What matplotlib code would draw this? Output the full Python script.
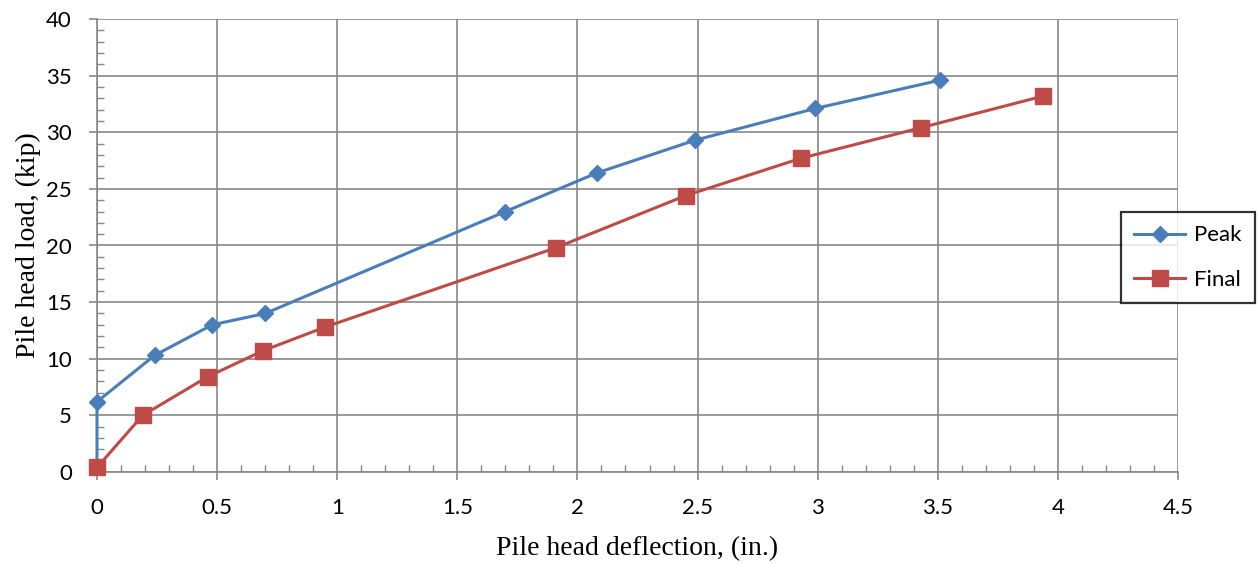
import matplotlib
matplotlib.use("Agg")
import matplotlib.pyplot as plt
from matplotlib.ticker import MultipleLocator

peak_x = [0.0, 0.0, 0.24, 0.48, 0.70, 1.70, 2.08, 2.49, 2.99, 3.51]
peak_y = [0.4, 6.2, 10.3, 13.0, 14.0, 23.0, 26.4, 29.3, 32.1, 34.6]
final_x = [0.0, 0.19, 0.46, 0.69, 0.95, 1.91, 2.45, 2.93, 3.43, 3.94]
final_y = [0.4, 5.0, 8.4, 10.7, 12.8, 19.8, 24.4, 27.7, 30.4, 33.2]

xlabel = "Pile head deflection, (in.)"
ylabel = "Pile head load, (kip)"
series_names = ["Peak", "Final"]

fig = plt.figure(figsize=(12.59, 5.65), dpi=100)
ax = fig.add_axes([97/1259, 1 - 472/565, (1178-97)/1259, (472-19)/565])

blue = "#4A7EBB"
red = "#BE4B48"

l1, = ax.plot(peak_x, peak_y, color=blue, lw=2.2, marker="D", ms=8.5,
              markevery=list(range(1, len(peak_x))), zorder=3, clip_on=False,
              label=series_names[0])
l2, = ax.plot(final_x, final_y, color=red, lw=2.2, marker="s", ms=11.5, zorder=4,
              clip_on=False, label=series_names[1])

ax.set_xlim(0, 4.5)
ax.set_ylim(0, 40)
ax.xaxis.set_major_locator(MultipleLocator(0.5))
ax.yaxis.set_major_locator(MultipleLocator(5))
ax.xaxis.set_minor_locator(MultipleLocator(0.1))
ax.yaxis.set_minor_locator(MultipleLocator(1))
ax.xaxis.set_major_formatter(plt.FuncFormatter(lambda v, p: f"{v:g}"))
ax.yaxis.set_major_formatter(plt.FuncFormatter(lambda v, p: f"{v:g}"))

gc = "#888888"
ax.grid(True, which="major", color=gc, lw=1.2)
ax.set_axisbelow(True)
for s in ["top", "right"]:
    ax.spines[s].set_visible(False)
for s in ["left", "bottom"]:
    ax.spines[s].set_color(gc)
    ax.spines[s].set_linewidth(1.2)

ax.tick_params(which="major", direction="out", length=6, width=1.2, color=gc,
               labelsize=16)
ax.tick_params(axis="x", which="major", pad=13)
ax.tick_params(axis="y", which="major", pad=12)
ax.tick_params(which="minor", direction="in", length=5, width=1.0, color=gc)
for lab in ax.get_xticklabels() + ax.get_yticklabels():
    lab.set_fontfamily("Lato")

ax.set_xlabel(xlabel, fontfamily="Liberation Serif", fontsize=20, labelpad=13)
ax.set_ylabel(ylabel, fontfamily="Liberation Serif", fontsize=20, labelpad=4)

leg = fig.legend(handles=[l1, l2], loc="upper left",
                 bbox_to_anchor=(1121/1259, 1 - 212/565),
                 prop={"family": "Lato", "size": 16}, frameon=True,
                 fancybox=False, edgecolor="black", borderpad=0.6,
                 handlelength=2.3, handletextpad=0.4, labelspacing=1.1,
                 borderaxespad=0)
leg.get_frame().set_linewidth(1.6)

fig.savefig("out.png", dpi=100)
